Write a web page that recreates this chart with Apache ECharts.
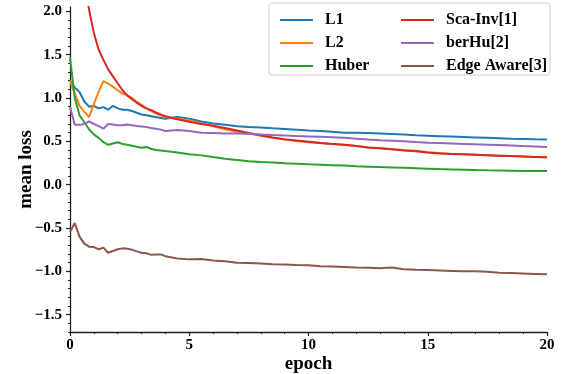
<!DOCTYPE html>
<html>
<head>
<meta charset="utf-8">
<script src="https://cdn.jsdelivr.net/npm/echarts@6/dist/echarts.min.js"></script>
<style>
  html, body { margin: 0; padding: 0; background: #fff; }
  #chart { width: 562px; height: 374px; }
</style>
</head>
<body>
<div id="chart"></div>
<script>
const epochs = [0, 0.2, 0.4, 0.6, 0.8, 1.0, 1.2, 1.4, 1.6, 1.8, 2.0, 2.2, 2.4, 2.6, 2.8, 3.0, 3.2, 3.4, 3.6, 3.8, 4.0,
  4.5, 5, 5.5, 6, 6.5, 7, 7.5, 8, 8.5, 9, 9.5, 10, 10.5, 11, 11.5, 12, 12.5, 13, 13.5, 14, 14.5, 15, 15.5, 16, 16.5,
  17, 17.5, 18, 18.5, 19, 19.5, 20];

const l1 = [1.20, 1.12, 1.07, 0.96, 0.90, 0.91, 0.88, 0.895, 0.865, 0.91, 0.88, 0.865, 0.865, 0.85, 0.83, 0.81, 0.80, 0.79, 0.78, 0.77, 0.76,
  0.78, 0.76, 0.73, 0.705, 0.69, 0.675, 0.665, 0.66, 0.65, 0.643, 0.635, 0.625, 0.62, 0.61, 0.60, 0.60, 0.595, 0.59, 0.585, 0.58, 0.57,
  0.565, 0.56, 0.555, 0.55, 0.545, 0.54, 0.535, 0.53, 0.528, 0.523, 0.52];
const l2 = [1.20, 1.05, 0.91, 0.84, 0.78, 0.93, 1.07, 1.195, 1.165, 1.13, 1.09, 1.05, 1.03, 1.00, 0.955, 0.92, 0.88, 0.85, 0.82, 0.80, 0.78,
  0.76, 0.74, 0.71, 0.675, 0.64, 0.61, 0.59, 0.565, 0.54, 0.52, 0.505, 0.49, 0.48, 0.47, 0.46, 0.445, 0.43, 0.42, 0.41, 0.40, 0.39,
  0.375, 0.365, 0.355, 0.35, 0.345, 0.34, 0.335, 0.33, 0.325, 0.32, 0.315];
const huber = [1.47, 1.00, 0.80, 0.72, 0.64, 0.58, 0.54, 0.49, 0.46, 0.475, 0.49, 0.47, 0.46, 0.448, 0.437, 0.427, 0.434, 0.415, 0.40, 0.395, 0.388,
  0.37, 0.35, 0.338, 0.318, 0.30, 0.285, 0.27, 0.262, 0.255, 0.248, 0.242, 0.235, 0.23, 0.225, 0.22, 0.212, 0.208, 0.203, 0.199, 0.195, 0.19,
  0.185, 0.18, 0.176, 0.172, 0.168, 0.165, 0.163, 0.161, 0.159, 0.158, 0.157];
const scaInv = [3.6, 3.1, 2.7, 2.3, 2.02, 1.75, 1.56, 1.44, 1.33, 1.25, 1.17, 1.09, 1.03, 0.985, 0.945, 0.91, 0.88, 0.86, 0.835, 0.81, 0.79,
  0.755, 0.725, 0.70, 0.68, 0.655, 0.625, 0.595, 0.57, 0.545, 0.525, 0.51, 0.495, 0.48, 0.47, 0.46, 0.445, 0.43, 0.42, 0.41, 0.395, 0.385,
  0.37, 0.36, 0.355, 0.35, 0.345, 0.34, 0.335, 0.33, 0.325, 0.32, 0.315];
const berHu = [0.90, 0.69, 0.69, 0.70, 0.73, 0.70, 0.675, 0.646, 0.70, 0.695, 0.685, 0.685, 0.695, 0.685, 0.676, 0.67, 0.665, 0.655, 0.646, 0.635, 0.62,
  0.632, 0.62, 0.60, 0.595, 0.59, 0.59, 0.588, 0.58, 0.573, 0.568, 0.562, 0.557, 0.552, 0.547, 0.54, 0.53, 0.52, 0.513, 0.507, 0.50, 0.492,
  0.485, 0.48, 0.475, 0.47, 0.465, 0.462, 0.458, 0.452, 0.445, 0.44, 0.434];
const edgeAware = [-0.547, -0.443, -0.60, -0.68, -0.715, -0.72, -0.745, -0.727, -0.785, -0.765, -0.745, -0.735, -0.738, -0.75, -0.77, -0.785, -0.79, -0.81, -0.806, -0.805, -0.825,
  -0.852, -0.862, -0.858, -0.875, -0.885, -0.90, -0.905, -0.91, -0.918, -0.922, -0.928, -0.93, -0.94, -0.945, -0.95, -0.955, -0.958, -0.965, -0.955, -0.975, -0.982,
  -0.985, -0.99, -0.995, -1.0, -1.0, -1.005, -1.015, -1.02, -1.025, -1.03, -1.035];

const seriesNames = ['L1', 'L2', 'Huber', 'Sca-Inv[1]', 'berHu[2]', 'Edge Aware[3]'];
const seriesData = [l1, l2, huber, scaInv, berHu, edgeAware];
const colors = ['#1f77b4', '#ff7f0e', '#2ca02c', '#d62728', '#9467bd', '#8c564b'];
const yTicks = [-1.5, -1.0, -0.5, 0.0, 0.5, 1.0, 1.5, 2.0];

const FONT = '"Liberation Serif", "Times New Roman", serif';

let yMinor = [];
for (let i = -17; i <= 20; i++) yMinor.push(i / 10);

const chart = echarts.init(document.getElementById('chart'));

const legendBase = {
    orient: 'vertical',
    icon: 'rect',
    itemWidth: 33,
    itemHeight: 2,
    itemGap: 7,
    textStyle: { fontFamily: FONT, fontWeight: 'bold', fontSize: 16, color: '#000', lineHeight: 16, padding: [0, 0, 0, 7] }
};

chart.setOption({
    animation: false,
    color: colors,
    grid: { left: 70, right: 15, top: 7, bottom: 42, outerBoundsMode: 'none', containLabel: false },
    graphic: [{
        type: 'rect',
        shape: { x: 269, y: 3, width: 281, height: 72, r: 3 },
        style: { fill: 'rgba(255,255,255,0.8)', stroke: '#d0d0d0', lineWidth: 1 },
        z: 5
    }],
    legend: [
        Object.assign({ left: 275, top: 7, data: seriesNames.slice(0, 3), z: 6 }, legendBase),
        Object.assign({ left: 396, top: 7, data: seriesNames.slice(3), z: 6 }, legendBase)
    ],
    xAxis: {
        type: 'value',
        min: 0,
        max: 20,
        interval: 5,
        name: 'epoch',
        nameLocation: 'middle',
        nameGap: 23,
        nameMoveOverlap: false,
        nameTextStyle: { fontFamily: FONT, fontWeight: 'bold', fontSize: 19, color: '#000' },
        axisLine: { onZero: false, lineStyle: { color: '#222', width: 1.3 } },
        axisTick: { length: 4, lineStyle: { color: '#222', width: 1.2 } },
        minorTick: { show: true, splitNumber: 5, length: 2, lineStyle: { color: '#222', width: 1 } },
        splitLine: { show: false },
        axisLabel: { margin: 6, fontFamily: FONT, fontWeight: 'bold', fontSize: 15, color: '#000' }
    },
    yAxis: [{
        type: 'value',
        min: -1.7,
        max: 2.05,
        name: 'mean loss',
        nameLocation: 'middle',
        nameRotate: 90,
        nameGap: 34,
        nameMoveOverlap: false,
        nameTextStyle: { fontFamily: FONT, fontWeight: 'bold', fontSize: 19, color: '#000' },
        axisLine: { show: true, lineStyle: { color: '#222', width: 1.3 } },
        axisTick: { show: true, length: 4, customValues: yTicks, lineStyle: { color: '#222', width: 1.2 } },
        splitLine: { show: false },
        axisLabel: {
            margin: 8,
            customValues: yTicks,
            fontFamily: FONT, fontWeight: 'bold', fontSize: 15, color: '#000',
            formatter: v => v.toFixed(1).replace('-', '\u2212')
        }
    }, {
        type: 'value',
        min: -1.7,
        max: 2.05,
        position: 'left',
        axisLine: { show: false },
        axisTick: { show: true, length: 2, customValues: yMinor, lineStyle: { color: '#222', width: 1 } },
        axisLabel: { show: false },
        splitLine: { show: false }
    }],
    series: seriesNames.map((name, i) => ({
        name: name,
        type: 'line',
        symbol: 'none',
        yAxisIndex: 0,
        clip: true,
        lineStyle: { width: 2, color: colors[i] },
        itemStyle: { color: colors[i] },
        data: epochs.map((e, j) => [e, seriesData[i][j]])
    }))
});

window.addEventListener('resize', () => chart.resize());
</script>
</body>
</html>
